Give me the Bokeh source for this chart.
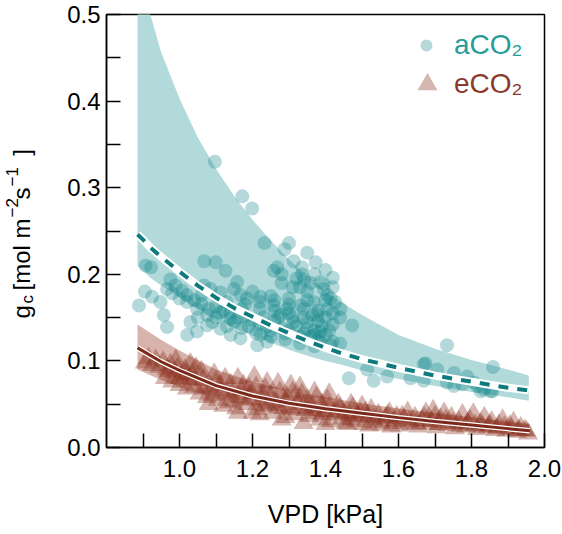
from bokeh.plotting import figure
from bokeh.layouts import row
from bokeh.models import (FixedTicker, PrintfTickFormatter, Legend,
                          LegendItem, Range1d)
from bokeh.core.properties import value
from bokeh.embed import file_html
from bokeh.resources import INLINE

# ---------------- data ----------------
# aCO2 fitted curve and its uncertainty band
a_grid = [0.885, 0.90, 0.92, 0.95, 1.00, 1.05, 1.10, 1.15, 1.20, 1.25,
          1.30, 1.35, 1.40, 1.45, 1.50, 1.60, 1.70, 1.80, 1.90, 1.957]
a_fit = [0.246, 0.240, 0.231, 0.220, 0.203, 0.187, 0.173, 0.161, 0.151, 0.141,
         0.132, 0.123, 0.115, 0.108, 0.102, 0.092, 0.083, 0.076, 0.069, 0.066]
a_upper = [0.549, 0.527, 0.500, 0.456, 0.403, 0.358, 0.322, 0.290, 0.263, 0.239,
           0.217, 0.198, 0.181, 0.166, 0.153, 0.130, 0.114, 0.101, 0.090, 0.083]
a_lower = [0.210, 0.204, 0.196, 0.187, 0.173, 0.160, 0.148, 0.138, 0.129, 0.121,
           0.113, 0.106, 0.100, 0.095, 0.089, 0.079, 0.071, 0.064, 0.058, 0.054]

# eCO2 fitted curve and its uncertainty band
e_grid = [0.885, 0.95, 1.00, 1.10, 1.20, 1.30, 1.40, 1.50, 1.60, 1.70, 1.80, 1.90, 1.96]
e_fit = [0.115, 0.099, 0.089, 0.0715, 0.0595, 0.051, 0.0448, 0.0395, 0.0345, 0.030,
         0.026, 0.0218, 0.0194]
e_upper = [0.142, 0.124, 0.112, 0.090, 0.076, 0.066, 0.058, 0.051, 0.045, 0.040,
           0.035, 0.030, 0.027]
e_lower = [0.090, 0.078, 0.070, 0.056, 0.047, 0.040, 0.035, 0.031, 0.027, 0.023,
           0.020, 0.016, 0.014]

# aCO2 observations
a_vpd = [
    1.097, 1.172, 1.199, 1.233, 1.288, 1.068, 1.099, 1.126, 0.922, 0.907,
    1.268, 1.258, 1.336, 1.373, 1.313, 1.336, 1.341, 0.975, 0.989, 1.007,
    0.966, 1.067, 1.085, 1.112, 1.149, 1.167, 1.185, 1.158, 1.222, 1.258,
    1.295, 1.332, 1.368, 1.395, 1.386, 0.889, 0.925, 0.948, 0.957, 1.021,
    1.048, 1.076, 1.112, 1.140, 0.966, 1.021, 1.048, 1.030, 1.076, 1.112,
    1.140, 1.167, 1.213, 1.240, 1.222, 1.277, 1.313, 1.350, 1.386, 1.377,
    1.405, 1.300, 1.395, 1.405, 1.427, 1.441, 1.414, 1.473, 1.364, 1.368,
    1.386, 1.414, 1.733, 1.859, 1.674, 1.706, 1.752, 1.788, 1.806, 1.834,
    1.464, 1.514, 1.532, 1.569, 1.633, 1.669, 1.733, 1.752, 1.775, 1.816,
    1.857, 1.669, 1.825, 1.852, 1.350, 1.400, 1.420, 1.280, 1.310, 1.350,
    0.905,
    0.980, 1.000, 1.020, 1.040, 1.060, 1.080, 1.100, 1.120, 1.140, 1.160,
    1.180, 1.200, 1.220, 1.240, 1.260, 1.280, 1.300, 1.320, 1.340, 1.360,
    1.380, 1.400, 1.420, 1.440, 1.050, 1.090, 1.130, 1.170, 1.210, 1.250,
    1.290, 1.330, 1.370, 1.180, 1.220, 1.260, 1.300, 1.340, 1.380, 1.420,
    1.200, 1.250, 1.300, 1.350, 1.400, 1.280, 1.330, 1.370, 1.420,
    1.230, 1.270, 1.310, 1.350, 1.390, 1.250, 1.290, 1.330, 1.370, 1.410,
    1.220, 1.260, 1.300, 1.340, 1.380, 1.420, 1.320, 1.360, 1.400, 1.440,
    1.100, 1.150, 1.190, 1.060, 1.130, 1.170,
]
a_gc = [
    0.330, 0.290, 0.276, 0.236, 0.229, 0.215, 0.214, 0.204, 0.208, 0.210,
    0.208, 0.204, 0.208, 0.214, 0.215, 0.200, 0.194, 0.194, 0.187, 0.181,
    0.183, 0.187, 0.183, 0.179, 0.183, 0.176, 0.172, 0.191, 0.174, 0.164,
    0.160, 0.164, 0.168, 0.183, 0.191, 0.164, 0.174, 0.168, 0.153, 0.168,
    0.160, 0.153, 0.156, 0.149, 0.139, 0.130, 0.134, 0.145, 0.141, 0.137,
    0.130, 0.126, 0.118, 0.122, 0.130, 0.153, 0.145, 0.137, 0.134, 0.153,
    0.160, 0.236, 0.189, 0.176, 0.168, 0.160, 0.172, 0.141, 0.153, 0.130,
    0.122, 0.118, 0.118, 0.093, 0.097, 0.090, 0.086, 0.082, 0.075, 0.067,
    0.080, 0.090, 0.077, 0.082, 0.080, 0.077, 0.075, 0.071, 0.073, 0.071,
    0.065, 0.096, 0.065, 0.065, 0.225, 0.205, 0.196, 0.200, 0.185, 0.180,
    0.180,
    0.178, 0.172, 0.176, 0.170, 0.166, 0.160, 0.163, 0.158, 0.155, 0.150,
    0.152, 0.147, 0.143, 0.140, 0.146, 0.138, 0.135, 0.140, 0.131, 0.128,
    0.125, 0.130, 0.122, 0.120, 0.150, 0.145, 0.140, 0.138, 0.132, 0.128,
    0.125, 0.120, 0.117, 0.165, 0.160, 0.158, 0.155, 0.150, 0.146, 0.142,
    0.180, 0.175, 0.172, 0.170, 0.150, 0.190, 0.185, 0.200, 0.185,
    0.150, 0.150, 0.150, 0.145, 0.140, 0.135, 0.132, 0.128, 0.135, 0.135,
    0.168, 0.170, 0.165, 0.160, 0.158, 0.155, 0.195, 0.190, 0.170, 0.150,
    0.150, 0.145, 0.140, 0.176, 0.168, 0.160,
]

# eCO2 observations
e_vpd = [
    0.905, 0.915, 0.925, 0.935, 0.945, 0.955, 0.965, 0.975, 0.985, 0.995,
    1.005, 1.015, 1.025, 1.035, 0.960, 0.980, 1.000, 1.020, 1.040, 1.045,
    0.990, 1.030,
    1.055, 1.065, 1.075, 1.085, 1.095, 1.105, 1.115, 1.125, 1.135, 1.145,
    1.060, 1.100, 1.140, 1.080, 1.120,
    1.155, 1.165, 1.175, 1.185, 1.195, 1.205, 1.215, 1.225, 1.235, 1.245,
    1.160, 1.200, 1.240, 1.190, 1.230,
    1.255, 1.265, 1.275, 1.285, 1.295, 1.305, 1.315, 1.325, 1.335, 1.345,
    1.270, 1.310, 1.290, 1.330, 1.350,
    1.355, 1.365, 1.375, 1.385, 1.395, 1.405, 1.415, 1.425, 1.435, 1.445,
    1.370, 1.410, 1.440, 1.390,
    1.455, 1.465, 1.475, 1.485, 1.495, 1.505, 1.515, 1.525, 1.535, 1.545,
    1.470, 1.500,
    1.555, 1.565, 1.575, 1.585, 1.595, 1.605, 1.615, 1.625, 1.635, 1.645,
    1.655, 1.665, 1.675, 1.685, 1.695, 1.705, 1.715, 1.725, 1.735, 1.745,
    1.700,
    1.755, 1.765, 1.775, 1.785, 1.795, 1.805, 1.815, 1.825, 1.835, 1.845,
    1.855, 1.865, 1.875, 1.885, 1.895, 1.905, 1.915, 1.925, 1.935, 1.945,
    1.955,
    1.07, 1.09, 1.11, 1.13, 1.15, 1.17, 1.19, 1.21, 1.23, 1.25,
    1.27, 1.29, 1.31, 1.33, 1.35, 1.37, 1.39, 1.41, 1.43, 1.45,
    1.47, 1.49, 1.51, 1.53, 1.55, 1.57, 1.59, 1.61, 1.63, 1.65,
    1.67, 1.69, 1.71, 1.73, 1.75, 1.77, 1.79, 1.81, 1.83, 1.85,
    1.87, 1.89, 1.91, 1.93, 1.95,
    1.00, 1.02, 0.97, 1.04, 1.16, 1.22, 1.28, 1.34, 1.40, 1.46,
    1.52, 1.58,
]
e_gc = [
    0.098, 0.103, 0.095, 0.101, 0.093, 0.099, 0.090, 0.096, 0.086, 0.092,
    0.083, 0.090, 0.079, 0.085, 0.080, 0.076, 0.072, 0.068, 0.070, 0.092,
    0.101, 0.097,
    0.062, 0.078, 0.058, 0.070, 0.085, 0.055, 0.066, 0.080, 0.052, 0.062,
    0.088, 0.076, 0.073, 0.050, 0.048,
    0.045, 0.058, 0.072, 0.050, 0.062, 0.082, 0.044, 0.055, 0.068, 0.049,
    0.080, 0.040, 0.075, 0.069, 0.060,
    0.040, 0.052, 0.064, 0.045, 0.058, 0.072, 0.038, 0.050, 0.062, 0.043,
    0.074, 0.064, 0.035, 0.070, 0.055,
    0.036, 0.047, 0.058, 0.032, 0.042, 0.055, 0.030, 0.038, 0.050, 0.033,
    0.064, 0.062, 0.045, 0.050,
    0.028, 0.037, 0.046, 0.030, 0.040, 0.027, 0.035, 0.044, 0.029, 0.038,
    0.050, 0.048,
    0.026, 0.034, 0.040, 0.028, 0.036, 0.025, 0.032, 0.041, 0.027, 0.035,
    0.024, 0.031, 0.040, 0.027, 0.043, 0.023, 0.033, 0.040, 0.026, 0.035,
    0.036,
    0.022, 0.030, 0.038, 0.024, 0.032, 0.039, 0.021, 0.028, 0.035, 0.023,
    0.030, 0.020, 0.026, 0.032, 0.019, 0.025, 0.029, 0.018, 0.023, 0.020,
    0.016,
    0.068, 0.060, 0.072, 0.064, 0.054, 0.066, 0.056, 0.070, 0.048, 0.060,
    0.046, 0.054, 0.044, 0.056, 0.046, 0.040, 0.038, 0.046, 0.042, 0.040,
    0.032, 0.036, 0.041, 0.033, 0.031, 0.037, 0.030, 0.036, 0.030, 0.028,
    0.035, 0.030, 0.027, 0.032, 0.028, 0.025, 0.028, 0.026, 0.024, 0.026,
    0.022, 0.024, 0.021, 0.020, 0.019,
    0.080, 0.085, 0.088, 0.078, 0.040, 0.038, 0.032, 0.028, 0.027, 0.027,
    0.025, 0.024,
]

x_ticks = [1.0, 1.2, 1.4, 1.6, 1.8, 2.0]
x_minor = [0.9, 1.1, 1.3, 1.5, 1.7, 1.9]
y_ticks = [0.0, 0.1, 0.2, 0.3, 0.4, 0.5]
y_minor = [0.05, 0.15, 0.25, 0.35, 0.45]

series_labels = ["aCO\u2082", "eCO\u2082"]
x_title = "VPD [kPa]"
# y title pieces: normal-size parts and sub/superscript parts
y_title_main = ["g", "[mol m", "s", "]"]
y_title_script = ["c", "\u22122", "\u22121"]

# ---------------- styling / layout ----------------
FONT = "Liberation Sans"
TEAL = "#0b8285"
TEAL_BAND = "#b2dadb"
TEAL_LINE = "#0d7b7d"
TEAL_TEXT = "#2a9b99"
BROWN = "#8a2e1e"
PINK_BAND = "#d8b3ab"
BROWN_LINE = "#7b281a"
BROWN_TEXT = "#8b3a2c"

H = 534
LEFT_W = 50
TOP = 14           # frame top (page px)
BOTTOM = 447       # frame bottom (page px)

# left strip carrying the rotated y title.  In a row Bokeh aligns its frame
# with the main frame (page y TOP..BOTTOM), so its y range is set so that
# y = H - page_y.
ylab = figure(width=LEFT_W, height=H, x_range=Range1d(0, LEFT_W),
              y_range=Range1d(H - BOTTOM, H - TOP), x_axis_location=None,
              y_axis_location=None, min_border=0, outline_line_color=None,
              output_backend="svg", toolbar_location=None, title=None)
ylab.xgrid.visible = False
ylab.ygrid.visible = False
main_pos_x = [20.7, 20.7, 20.7, 20.7]
main_pos_y = [H - 311.3, H - 254, H - 193, H - 152]
script_pos_x = [27.1, 11.1, 11.1]
script_pos_y = [H - 298.7, H - 207.3, H - 176.3]
ylab.text(x=main_pos_x, y=main_pos_y, text=y_title_main, angle=1.5707963267948966,
          text_font=value(FONT), text_font_size="24px", text_color="black",
          text_align="center", text_baseline="middle")
ylab.text(x=script_pos_x, y=script_pos_y, text=y_title_script,
          angle=1.5707963267948966, text_font=value(FONT),
          text_font_size="17px", text_color="black",
          text_align="center", text_baseline="middle")

p = figure(x_range=Range1d(0.8, 2.0), y_range=Range1d(0.0, 0.5),
           frame_width=438, frame_height=BOTTOM - TOP,
           min_border_left=106 - LEFT_W, min_border_right=18,
           min_border_top=TOP, min_border_bottom=H - BOTTOM,
           output_backend="svg", toolbar_location=None, title=None)

p.xgrid.visible = False
p.ygrid.visible = False
p.outline_line_color = "black"
p.outline_line_width = 1.5
p.background_fill_color = "white"
p.border_fill_color = "white"

# bands
p.varea(x=a_grid, y1=a_lower, y2=a_upper, fill_color=TEAL_BAND, fill_alpha=1.0)
p.varea(x=e_grid, y1=e_lower, y2=e_upper, fill_color=PINK_BAND, fill_alpha=1.0)

# points
circ = p.scatter(a_vpd, a_gc, marker="circle", size=14, fill_color=TEAL,
                 fill_alpha=0.3, line_color=None)
tri = p.scatter(e_vpd, e_gc, marker="triangle", size=20, fill_color=BROWN,
                fill_alpha=0.35, line_color=None)

# fitted curves
p.line(a_grid, a_fit, line_color="white", line_width=8)
p.line(a_grid, a_fit, line_color=TEAL_LINE, line_width=4, line_dash="10 9")
p.line(e_grid, e_fit, line_color="white", line_width=5.5)
p.line(e_grid, e_fit, line_color=BROWN_LINE, line_width=3)

# axes
for ax in (p.xaxis[0], p.yaxis[0]):
    ax.axis_line_color = "black"
    ax.axis_line_width = 1.5
    ax.major_tick_line_color = "black"
    ax.major_tick_line_width = 1.5
    ax.minor_tick_line_color = "black"
    ax.minor_tick_line_width = 1.5
    ax.major_tick_in = 14
    ax.major_tick_out = 0
    ax.minor_tick_in = 14
    ax.minor_tick_out = 0
    ax.major_label_text_font = FONT
    ax.major_label_text_font_size = "24px"
    ax.major_label_text_color = "black"
    ax.formatter = PrintfTickFormatter(format="%.1f")

p.xaxis.ticker = FixedTicker(ticks=x_ticks, minor_ticks=x_minor)
p.yaxis.ticker = FixedTicker(ticks=y_ticks, minor_ticks=y_minor)
p.xaxis.major_label_standoff = 12
p.yaxis.major_label_standoff = 6

p.xaxis.axis_label = x_title
p.xaxis.axis_label_text_font = FONT
p.xaxis.axis_label_text_font_size = "25px"
p.xaxis.axis_label_text_font_style = "normal"
p.xaxis.axis_label_text_color = "black"
p.xaxis.axis_label_standoff = 20

# legends
leg_a = Legend(items=[LegendItem(label=series_labels[0], renderers=[circ])],
               location=(305, 386), glyph_width=30, glyph_height=30,
               label_standoff=13, padding=0, margin=0, spacing=0,
               border_line_color=None, background_fill_alpha=0,
               label_text_font=FONT, label_text_font_size="28px",
               label_text_color=TEAL_TEXT)
leg_b = Legend(items=[LegendItem(label=series_labels[1], renderers=[tri])],
               location=(296, 338), glyph_width=50, glyph_height=50,
               label_standoff=2, padding=0, margin=0, spacing=0,
               border_line_color=None, background_fill_alpha=0,
               label_text_font=FONT, label_text_font_size="28px",
               label_text_color=BROWN_TEXT)
p.add_layout(leg_a)
p.add_layout(leg_b)

layout = row(ylab, p)
open("out.html", "w").write(file_html(layout, INLINE))
